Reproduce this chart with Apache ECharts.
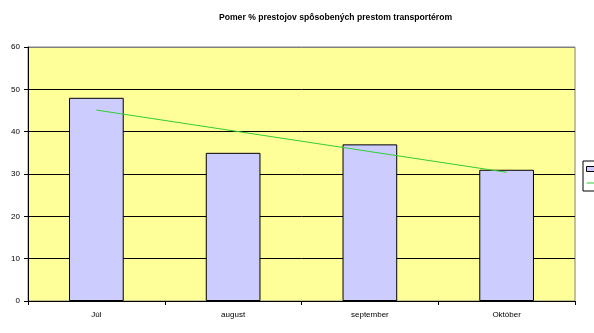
<!DOCTYPE html>
<html>
<head>
<meta charset="utf-8">
<script src="https://cdn.jsdelivr.net/npm/echarts@6/dist/echarts.min.js"></script>
<style>
html,body{margin:0;padding:0;background:#fff;}
#chart{width:594px;height:333px;}
</style>
</head>
<body>
<div id="chart"></div>
<script>
// Downtime share per month caused by the conveyor stoppage
const months = ['Júl', 'august', 'september', 'Október'];
const downtime = [48, 35, 37, 31];
// Linear trend across the months
const trend = [45.1, 40.2, 35.3, 30.4];
const yTicks = [0, 10, 20, 30, 40, 50, 60];

const font = 'Liberation Sans, Arial, sans-serif';
// black gridlines, the top one blends into the grey frame
const splitColors = yTicks.map((v, i) => i === yTicks.length - 1 ? '#808080' : '#000');

const chart = echarts.init(document.getElementById('chart'), null, {renderer: 'canvas'});
chart.setOption({
  animation: false,
  backgroundColor: '#ffffff',
  title: {
    text: 'Pomer % prestojov spôsobených prestom transportérom',
    left: 214, top: 8,
    textStyle: {fontFamily: font, fontSize: 8.6, fontWeight: 'bold', color: '#000'}
  },
  legend: {
    orient: 'vertical', left: 583, top: 161,
    padding: [4, 3, 4, 3], itemGap: 6, itemWidth: 16, itemHeight: 5,
    borderColor: '#000', borderWidth: 1, backgroundColor: '#fff',
    textStyle: {fontSize: 8, fontFamily: font, color: '#000'},
    data: [
      {name: 'podiel', icon: 'rect', itemStyle: {color: '#CCCCFF', borderColor: '#000', borderWidth: 1}},
      {name: 'trend', icon: 'path://M0,0 L16,0 L16,1 L0,1 Z'}
    ]
  },
  grid: {left: 28, right: 19, top: 47, bottom: 32, show: true,
         backgroundColor: '#FFFF99', borderColor: '#808080', borderWidth: 1},
  xAxis: {
    type: 'category', data: months, boundaryGap: true,
    axisLine: {lineStyle: {color: '#000', width: 1}},
    axisTick: {show: true, length: 4, lineStyle: {color: '#000'}},
    axisLabel: {fontFamily: font, fontSize: 8, color: '#000', margin: 10}
  },
  yAxis: {
    type: 'value', min: yTicks[0], max: yTicks[yTicks.length - 1], interval: 10,
    axisLine: {show: true, lineStyle: {color: '#000'}},
    axisTick: {show: true, length: 4, lineStyle: {color: '#000'}},
    axisLabel: {fontFamily: font, fontSize: 8, color: '#000', margin: 8},
    splitLine: {show: true, lineStyle: {color: splitColors, width: 1}}
  },
  series: [
    {
      name: 'podiel', type: 'bar', data: downtime, barWidth: '40%',
      itemStyle: {color: '#CCCCFF', borderColor: '#000', borderWidth: 1}
    },
    {
      name: 'trend', type: 'line', data: trend, symbol: 'none',
      lineStyle: {color: '#33CC33', width: 1}, itemStyle: {color: '#33CC33'}
    }
  ]
});
</script>
</body>
</html>
